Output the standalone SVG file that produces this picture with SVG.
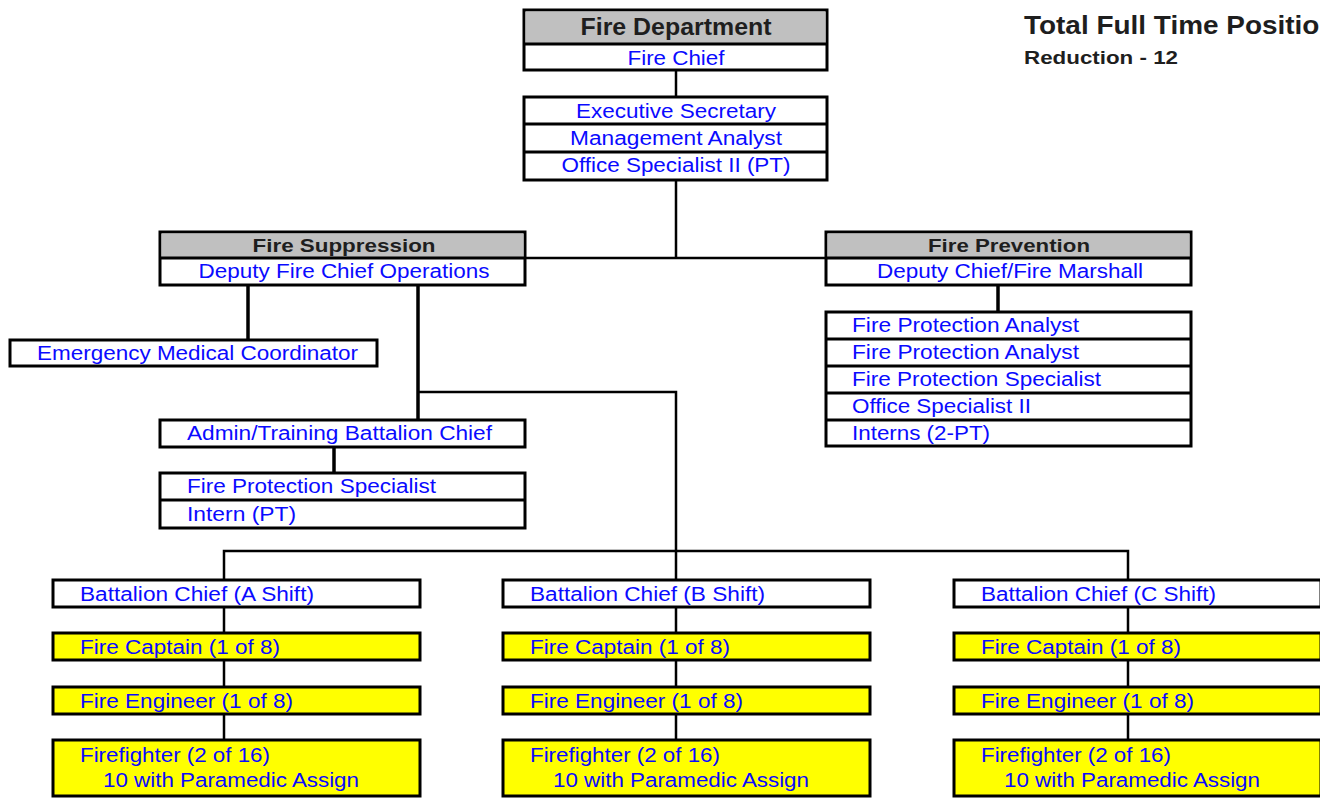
<svg xmlns="http://www.w3.org/2000/svg" width="1320" height="800" viewBox="0 0 1320 800">
<style>
.bx{fill:#fff;stroke:#000;stroke-width:3}
.yl{fill:#ffff00;stroke:#000;stroke-width:3}
.gr{fill:#c0c0c0;stroke:none}
.dv{stroke:#000;stroke-width:3;fill:none}
.cn{stroke:#000;stroke-width:2.5;fill:none}
.ck{stroke:#000;stroke-width:3.5;fill:none}
.t{font-family:"Liberation Sans",Arial,sans-serif;font-size:20px;fill:#0a0aff}
.m{text-anchor:middle}
.h{font-family:"Liberation Sans",Arial,sans-serif;font-weight:bold;fill:#1e1e1e}
</style>
<rect width="1320" height="800" fill="#fff"/>

<g id="connectors">
<path class="cn" d="M676 70V97"/>
<path class="cn" d="M676 180V258M525 258H826"/>
<path class="ck" d="M248 285V340"/>
<path class="ck" d="M418 285V420"/>
<path class="cn" d="M418 392H676V580"/>
<path class="ck" d="M334 447V473"/>
<path class="ck" d="M998 285V312"/>
<path class="cn" d="M224 580V551H1128V580"/>
<path class="cn" d="M224 607V633M224 660V687M224 714V740"/>
<path class="cn" d="M676 607V633M676 660V687M676 714V740"/>
<path class="cn" d="M1128 607V633M1128 660V687M1128 714V740"/>
</g>

<g id="title">
<text class="h" x="1024" y="34" font-size="25" textLength="328" lengthAdjust="spacingAndGlyphs">Total Full Time Positions</text>
<text class="h" x="1024" y="64" font-size="18.5" textLength="154" lengthAdjust="spacingAndGlyphs">Reduction - 12</text>
</g>

<g id="fire-department">
<rect class="bx" x="524" y="10" width="303" height="60"/>
<rect class="gr" x="525.5" y="11.5" width="300" height="32.5"/>
<path class="dv" d="M524 44H827"/>
<text class="h m" x="676" y="35" font-size="23" textLength="191" lengthAdjust="spacingAndGlyphs">Fire Department</text>
<text class="t m" x="676" y="65" textLength="97" lengthAdjust="spacingAndGlyphs">Fire Chief</text>
</g>

<g id="staff">
<rect class="bx" x="524" y="97" width="303" height="83"/>
<path class="dv" d="M524 124H827M524 152H827"/>
<text class="t m" x="676" y="118" textLength="200" lengthAdjust="spacingAndGlyphs">Executive Secretary</text>
<text class="t m" x="676" y="145" textLength="212" lengthAdjust="spacingAndGlyphs">Management Analyst</text>
<text class="t m" x="676" y="172" textLength="229" lengthAdjust="spacingAndGlyphs">Office Specialist II (PT)</text>
</g>

<g id="fire-suppression">
<rect class="bx" x="160" y="232" width="365" height="53"/>
<rect class="gr" x="161.5" y="233.5" width="362" height="24.5"/>
<path class="dv" d="M160 258H525"/>
<text class="h m" x="344" y="252" font-size="19" textLength="183" lengthAdjust="spacingAndGlyphs">Fire Suppression</text>
<text class="t m" x="344" y="278" textLength="291" lengthAdjust="spacingAndGlyphs">Deputy Fire Chief Operations</text>
</g>

<g id="fire-prevention">
<rect class="bx" x="826" y="232" width="365" height="53"/>
<rect class="gr" x="827.5" y="233.5" width="362" height="24.5"/>
<path class="dv" d="M826 258H1191"/>
<text class="h m" x="1009" y="252" font-size="19" textLength="162" lengthAdjust="spacingAndGlyphs">Fire Prevention</text>
<text class="t m" x="1010" y="278" textLength="266" lengthAdjust="spacingAndGlyphs">Deputy Chief/Fire Marshall</text>
</g>

<g id="prevention-staff">
<rect class="bx" x="826" y="312" width="365" height="134"/>
<path class="dv" d="M826 339H1191M826 366H1191M826 393H1191M826 420H1191"/>
<text class="t" x="852" y="332" textLength="227" lengthAdjust="spacingAndGlyphs">Fire Protection Analyst</text>
<text class="t" x="852" y="359" textLength="227" lengthAdjust="spacingAndGlyphs">Fire Protection Analyst</text>
<text class="t" x="852" y="386" textLength="249" lengthAdjust="spacingAndGlyphs">Fire Protection Specialist</text>
<text class="t" x="852" y="413" textLength="179" lengthAdjust="spacingAndGlyphs">Office Specialist II</text>
<text class="t" x="852" y="440" textLength="138" lengthAdjust="spacingAndGlyphs">Interns (2-PT)</text>
</g>

<g id="emc">
<rect class="bx" x="10" y="340" width="367" height="26"/>
<text class="t" x="37" y="360" textLength="321" lengthAdjust="spacingAndGlyphs">Emergency Medical Coordinator</text>
</g>

<g id="admin-training">
<rect class="bx" x="160" y="420" width="365" height="27"/>
<text class="t" x="187" y="440" textLength="305" lengthAdjust="spacingAndGlyphs">Admin/Training Battalion Chief</text>
</g>

<g id="training-staff">
<rect class="bx" x="160" y="473" width="365" height="55"/>
<path class="dv" d="M160 500H525"/>
<text class="t" x="187" y="493" textLength="249" lengthAdjust="spacingAndGlyphs">Fire Protection Specialist</text>
<text class="t" x="187" y="521" textLength="109" lengthAdjust="spacingAndGlyphs">Intern (PT)</text>
</g>

<g id="shift-a">
<rect class="bx" x="53" y="580" width="367" height="27"/>
<text class="t" x="80" y="601" textLength="234" lengthAdjust="spacingAndGlyphs">Battalion Chief (A Shift)</text>
<rect class="yl" x="53" y="633" width="367" height="27"/>
<text class="t" x="80" y="654" textLength="200" lengthAdjust="spacingAndGlyphs">Fire Captain (1 of 8)</text>
<rect class="yl" x="53" y="687" width="367" height="27"/>
<text class="t" x="80" y="708" textLength="213" lengthAdjust="spacingAndGlyphs">Fire Engineer (1 of 8)</text>
<rect class="yl" x="53" y="740" width="367" height="56"/>
<text class="t" x="80" y="762" textLength="190" lengthAdjust="spacingAndGlyphs">Firefighter (2 of 16)</text>
<text class="t" x="103" y="787" textLength="256" lengthAdjust="spacingAndGlyphs">10 with Paramedic Assign</text>
</g>

<g id="shift-b">
<rect class="bx" x="503" y="580" width="367" height="27"/>
<text class="t" x="530" y="601" textLength="235" lengthAdjust="spacingAndGlyphs">Battalion Chief (B Shift)</text>
<rect class="yl" x="503" y="633" width="367" height="27"/>
<text class="t" x="530" y="654" textLength="200" lengthAdjust="spacingAndGlyphs">Fire Captain (1 of 8)</text>
<rect class="yl" x="503" y="687" width="367" height="27"/>
<text class="t" x="530" y="708" textLength="213" lengthAdjust="spacingAndGlyphs">Fire Engineer (1 of 8)</text>
<rect class="yl" x="503" y="740" width="367" height="56"/>
<text class="t" x="530" y="762" textLength="190" lengthAdjust="spacingAndGlyphs">Firefighter (2 of 16)</text>
<text class="t" x="553" y="787" textLength="256" lengthAdjust="spacingAndGlyphs">10 with Paramedic Assign</text>
</g>

<g id="shift-c">
<rect class="bx" x="954" y="580" width="367" height="27"/>
<text class="t" x="981" y="601" textLength="235" lengthAdjust="spacingAndGlyphs">Battalion Chief (C Shift)</text>
<rect class="yl" x="954" y="633" width="367" height="27"/>
<text class="t" x="981" y="654" textLength="200" lengthAdjust="spacingAndGlyphs">Fire Captain (1 of 8)</text>
<rect class="yl" x="954" y="687" width="367" height="27"/>
<text class="t" x="981" y="708" textLength="213" lengthAdjust="spacingAndGlyphs">Fire Engineer (1 of 8)</text>
<rect class="yl" x="954" y="740" width="367" height="56"/>
<text class="t" x="981" y="762" textLength="190" lengthAdjust="spacingAndGlyphs">Firefighter (2 of 16)</text>
<text class="t" x="1004" y="787" textLength="256" lengthAdjust="spacingAndGlyphs">10 with Paramedic Assign</text>
</g>
</svg>
